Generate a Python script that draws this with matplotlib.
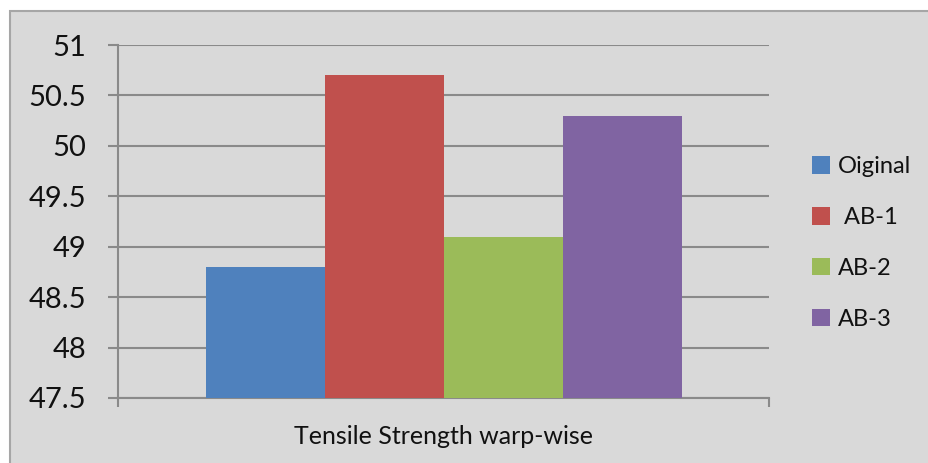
import matplotlib
matplotlib.use("Agg")
import matplotlib.pyplot as plt
from matplotlib.patches import Patch, Rectangle

# Data
group_label = "Tensile Strength warp-wise"
series_names = ["Oiginal", " AB-1", "AB-2", "AB-3"]
series_values = [48.8, 50.7, 49.1, 50.3]
series_colors = ["#4f81bd", "#c0504d", "#9bbb59", "#8064a2"]
y_ticks = [47.5, 48, 48.5, 49, 49.5, 50, 50.5, 51]
y_tick_labels = ["47.5", "48", "48.5", "49", "49.5", "50", "50.5", "51"]

plt.rcParams["font.family"] = ["Lato", "DejaVu Sans"]

BG = "#d9d9d9"
GRID = "#8a8a8a"
TEXT = "#111111"

fig = plt.figure(figsize=(9.29, 4.63), dpi=100)
fig.patch.set_facecolor("white")

# chart area frame
frame = Rectangle((10 / 929, -0.05), 1.0, 1 - 11 / 463 + 0.05,
                  transform=fig.transFigure, facecolor=BG,
                  edgecolor="#a6a6a6", linewidth=1.5, zorder=0)
fig.add_artist(frame)

ax = fig.add_axes([118 / 929, 1 - 398 / 463, (769 - 118) / 929, (398 - 45) / 463])
ax.patch.set_alpha(0)

bar_w = 119 / 651
n = len(series_values)
for i, (name, val, col) in enumerate(zip(series_names, series_values, series_colors)):
    x = (i - (n - 1) / 2) * bar_w
    ax.bar(x, val - y_ticks[0], bottom=y_ticks[0], width=bar_w, color=col,
           label=name, zorder=3, linewidth=0)

ax.set_xlim(-0.5, 0.5)
ax.set_ylim(y_ticks[0], y_ticks[-1])
ax.set_yticks(y_ticks)
ax.set_yticklabels(y_tick_labels)
ax.yaxis.grid(True, color=GRID, linewidth=1.5, zorder=1)
ax.set_axisbelow(True)

for s in ["top", "right"]:
    ax.spines[s].set_visible(False)
for s in ["left", "bottom"]:
    ax.spines[s].set_color(GRID)
    ax.spines[s].set_linewidth(1.5)

ax.tick_params(axis="y", length=7, width=1.5, color=GRID, pad=16,
               labelsize=21, labelcolor=TEXT)
ax.set_xticks([-0.5, 0.5])
ax.set_xticklabels(["", ""])
ax.tick_params(axis="x", length=6.5, width=1.5, color=GRID)

fig.text(444 / 929, 1 - 437 / 463, group_label, ha="center", va="center",
         fontsize=18, color=TEXT)

handles = [Patch(facecolor=c, edgecolor="none") for c in series_colors]
fig.legend(handles, series_names, loc="center left",
           bbox_to_anchor=(791 / 929, 1 - 243 / 463), frameon=False,
           fontsize=17, handlelength=0.75, handleheight=0.75,
           handletextpad=0.35, labelspacing=1.26, labelcolor=TEXT)

fig.savefig("out.png", dpi=100, facecolor=fig.get_facecolor())
